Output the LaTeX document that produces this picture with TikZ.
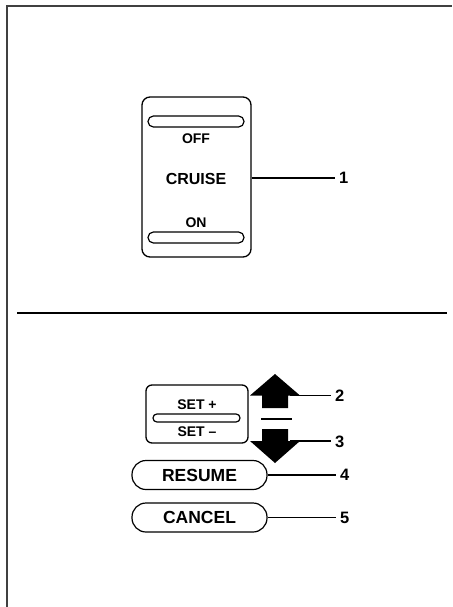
\documentclass[tikz,border=0pt]{standalone}
\usepackage{fontspec}
\setmainfont{Liberation Sans}
\usepackage{tikz}

\begin{document}
\begin{tikzpicture}[x=1pt, y=-1pt, font=\bfseries]
\tikzset{
  panel/.style={draw, line width=1.3pt, rounded corners=8pt, inner sep=0pt},
  slot/.style={draw, line width=1.2pt, rounded corners=5.4pt, inner sep=0pt, minimum width=96pt, minimum height=11pt},
  btn/.style={draw, line width=1.2pt, rounded corners=14pt, inner sep=0pt, minimum width=135pt, minimum height=29pt, font=\bfseries\fontsize{17.5}{17.5}\selectfont},
  txt/.style={inner sep=0pt, font=\bfseries\fontsize{14}{14}\selectfont},
  num/.style={anchor=west, inner sep=4pt, font=\bfseries\fontsize{16.5}{16.5}\selectfont},
  lead/.style={line width=1.2pt},
}
\useasboundingbox (0,0) rectangle (452,607);
\draw[line width=2pt, black!75] (6.5,607) -- (6.5,6) -- (452,6);
\draw[line width=2.5pt] (17,313) -- (447,313);

\node[panel, minimum width=109pt, minimum height=160pt] (cruise) at (196.5,177) {};
\node[slot] (offslot) at (196,121.5) {};
\node[slot] (onslot) at (196,237.5) {};
\node[txt] (off) at (196,139) {OFF};
\node[txt, font=\bfseries\fontsize{16}{16}\selectfont] (cruisetxt) at (196,179) {CRUISE};
\node[txt] (on) at (196,223) {ON};
\node[num] (n1) at (335,178) {1};
\draw[lead] (cruise.east |- n1) -- (n1.west);

\node[panel, rounded corners=6pt, minimum width=102pt, minimum height=58pt] (setbox) at (197,414) {};
\node[slot, minimum width=87pt, minimum height=8pt, rounded corners=3.9pt] (setslot) at (196.5,418) {};
\node[txt] (setplus) at (197,404.5) {SET +};
\node[txt] (setminus) at (197,432) {SET --};
\fill (275,374) -- (300,395.5) -- (288,395.5) -- (288,408) -- (262,408) -- (262,395.5) -- (250,395.5) -- cycle;
\fill (275,463) -- (300,441) -- (288,441) -- (288,429) -- (262,429) -- (262,441) -- (250,441) -- cycle;
\draw[line width=1.5pt] (261,419) -- (292,419);
\coordinate (upr) at (290,395.5);
\coordinate (dnr) at (290,441);
\node[num] (n2) at (331,395.5) {2};
\node[num] (n3) at (331,441.5) {3};
\draw[lead] (upr) -- (n2.west);
\draw[lead] (dnr) -- (n3.west |- dnr);

\node[btn] (resume) at (199.5,475) {RESUME};
\node[btn] (cancel) at (199.5,517.5) {CANCEL};
\node[num] (n4) at (336,475) {4};
\node[num] (n5) at (336,517.5) {5};
\draw[lead] (resume.east) -- (n4.west);
\draw[lead] (cancel.east) -- (n5.west);
\end{tikzpicture}
\end{document}
